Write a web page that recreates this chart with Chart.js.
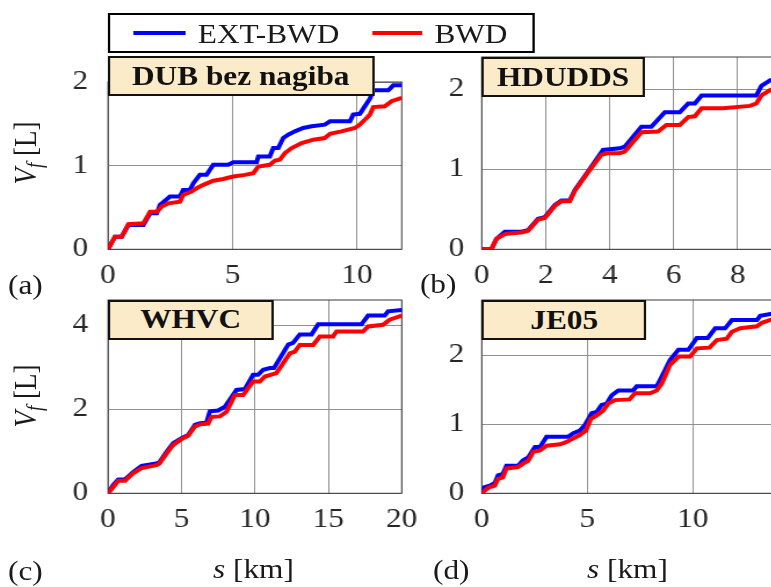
<!DOCTYPE html>
<html>
<head>
<meta charset="utf-8">
<script src="https://cdn.jsdelivr.net/npm/chart.js@4.4.1/dist/chart.umd.min.js"></script>
<style>
  html, body { margin: 0; padding: 0; background: #fff; width: 771px; height: 587px; overflow: hidden; }
  /* the original figure is stretched horizontally, so the whole figure is too */
  #fig { position: absolute; left: 0; top: 0; width: 720px; height: 587px;
         transform: scaleX(1.16); transform-origin: 0 0;
         font-family: "Liberation Serif", "Times New Roman", serif; color: #1a1a1a; }
  #fig canvas { position: absolute; }
  .lbl { position: absolute; font-size: 27px; line-height: 27px; white-space: nowrap; }
  .tbox { position: absolute; box-sizing: border-box; border: 2px solid #111; background: #fcebc8;
          font-weight: bold; font-size: 27px; text-align: center; white-space: nowrap; color: #111; }
  .ytitle { position: absolute; font-size: 27px; line-height: 27px; white-space: nowrap;
            transform: translate(-50%, -50%) rotate(-90deg); }
  .ytitle sub { font-size: 19px; vertical-align: -5px; }
  #legend { position: absolute; left: 92.5px; top: 13.3px; width: 368px; height: 40px;
            box-sizing: border-box; border: 2px solid #000; background: #fff; }
  #legend .ln { position: absolute; top: 16px; height: 4px; }
</style>
</head>
<body>
<div id="fig">
  <canvas id="chartA"></canvas>
  <canvas id="chartB"></canvas>
  <canvas id="chartC"></canvas>
  <canvas id="chartD"></canvas>

  <div id="legend">
    <div class="ln" style="left:20px;width:45px;background:#0000ff"></div>
    <div class="lbl" style="left:76px;top:5.5px">EXT-BWD</div>
    <div class="ln" style="left:226px;width:43px;background:#ff0000"></div>
    <div class="lbl" style="left:280px;top:5.5px">BWD</div>
  </div>

  <div class="tbox" style="left:92.5px;top:56px;width:230px;height:40px;line-height:36px">DUB bez nagiba</div>
  <div class="tbox" style="left:414.7px;top:56.7px;width:141.4px;height:40px;line-height:36px">HDUDDS</div>
  <div class="tbox" style="left:93.1px;top:300px;width:142.5px;height:39.5px;line-height:35.5px">WHVC</div>
  <div class="tbox" style="left:415.3px;top:300px;width:142.2px;height:40px;line-height:36px">JE05</div>

  <div class="ytitle" style="left:25.9px;top:153px"><i>V</i><sub><i>f</i></sub> [L]</div>
  <div class="ytitle" style="left:25.9px;top:396px"><i>V</i><sub><i>f</i></sub> [L]</div>

  <div class="lbl" style="left:6.9px;top:272.4px">(a)</div>
  <div class="lbl" style="left:362px;top:271.4px">(b)</div>
  <div class="lbl" style="left:6.9px;top:558.4px">(c)</div>
  <div class="lbl" style="left:373.3px;top:557.4px">(d)</div>

  <div class="lbl" style="left:183.6px;top:556.4px"><i>s</i> [km]</div>
  <div class="lbl" style="left:506px;top:556.4px"><i>s</i> [km]</div>
</div>

<script>
// (a) DUB bez nagiba
const dubExtX = [0, 0.28, 0.55, 0.82, 1.42, 1.69, 1.96, 2.09, 2.49, 2.89, 3.02, 3.29, 3.43, 3.69, 3.96, 4.23, 4.83, 5.03, 5.97, 6.04, 6.5, 6.64, 6.84, 7.04, 7.24, 7.51, 7.84, 8.18, 8.71, 8.92, 9.72, 9.85, 10.12, 10.32, 10.52, 10.66, 11.26, 11.46, 11.8];
const dubExtY = [0, 0.15, 0.15, 0.29, 0.29, 0.43, 0.43, 0.53, 0.63, 0.63, 0.71, 0.71, 0.79, 0.89, 0.89, 1.01, 1.01, 1.04, 1.04, 1.11, 1.11, 1.21, 1.21, 1.33, 1.37, 1.41, 1.45, 1.47, 1.49, 1.53, 1.53, 1.61, 1.62, 1.71, 1.80, 1.90, 1.90, 1.96, 1.96];
const dubBwdX = [0, 0.28, 0.55, 0.82, 1.42, 1.69, 1.96, 2.16, 2.43, 2.89, 3.02, 3.36, 3.56, 3.83, 4.23, 4.63, 5.03, 5.5, 5.84, 6.04, 6.5, 6.71, 6.9, 7.11, 7.38, 7.78, 8.25, 8.71, 8.92, 9.38, 9.92, 10.12, 10.39, 10.52, 10.66, 11.12, 11.39, 11.8];
const dubBwdY = [0, 0.15, 0.15, 0.30, 0.31, 0.45, 0.45, 0.51, 0.55, 0.57, 0.65, 0.69, 0.73, 0.77, 0.82, 0.84, 0.87, 0.89, 0.91, 0.99, 1.01, 1.06, 1.07, 1.15, 1.21, 1.27, 1.31, 1.33, 1.38, 1.41, 1.45, 1.49, 1.57, 1.61, 1.70, 1.71, 1.77, 1.81];

// (b) HDUDDS
const hdExtX = [0, 0.30, 0.46, 0.72, 0.93, 1.24, 1.45, 1.76, 1.97, 2.28, 2.49, 2.75, 2.91, 3.32, 3.79, 4.31, 4.47, 4.99, 5.30, 5.72, 6.19, 6.45, 6.66, 6.87, 8.58, 8.74, 9.06];
const hdExtY = [0, 0, 0.13, 0.22, 0.22, 0.22, 0.24, 0.38, 0.40, 0.55, 0.61, 0.61, 0.74, 0.97, 1.24, 1.26, 1.28, 1.53, 1.53, 1.71, 1.71, 1.82, 1.82, 1.92, 1.92, 2.04, 2.12];
const hdBwdX = [0, 0.30, 0.46, 0.72, 0.93, 1.24, 1.45, 1.76, 1.97, 2.28, 2.49, 2.75, 2.91, 3.32, 3.74, 3.95, 4.31, 4.47, 4.99, 5.51, 5.77, 6.19, 6.45, 6.66, 6.87, 7.54, 8.38, 8.58, 8.74, 9.06];
const hdBwdY = [0, 0, 0.13, 0.19, 0.20, 0.21, 0.23, 0.37, 0.39, 0.54, 0.60, 0.60, 0.73, 0.96, 1.18, 1.20, 1.20, 1.22, 1.46, 1.47, 1.55, 1.55, 1.65, 1.66, 1.76, 1.76, 1.79, 1.82, 1.92, 2.00];

// (c) WHVC
const whExtX = [0, 0.36, 0.7, 1.16, 1.72, 2.29, 3.3, 3.5, 3.99, 4.44, 5.01, 5.46, 5.92, 6.26, 6.7, 6.94, 7.5, 7.96, 8.75, 9.32, 9.88, 10.22, 10.57, 11.02, 11.3, 12.27, 12.6, 13.06, 13.86, 14.31, 17.26, 17.71, 18.84, 19.07, 20];
const whExtY = [0, 0.2, 0.33, 0.33, 0.51, 0.65, 0.71, 0.74, 0.99, 1.19, 1.31, 1.39, 1.63, 1.67, 1.68, 1.95, 1.97, 2.06, 2.46, 2.48, 2.82, 2.82, 2.94, 2.98, 2.98, 3.54, 3.58, 3.78, 3.78, 4.02, 4.02, 4.23, 4.23, 4.33, 4.36];
const whBwdX = [0, 0.36, 0.7, 1.16, 1.72, 2.29, 3.3, 3.5, 3.99, 4.44, 5.01, 5.46, 5.92, 6.26, 6.82, 7.05, 7.62, 8.07, 8.64, 9.2, 9.88, 10.34, 10.68, 11.47, 12.38, 12.72, 13.06, 13.97, 14.42, 15.33, 15.56, 17.37, 17.71, 18.73, 19.18, 20];
const whBwdY = [0, 0.15, 0.3, 0.3, 0.48, 0.6, 0.67, 0.71, 0.95, 1.15, 1.29, 1.37, 1.59, 1.64, 1.66, 1.82, 1.83, 1.94, 2.34, 2.34, 2.66, 2.66, 2.78, 2.86, 3.33, 3.37, 3.53, 3.53, 3.73, 3.73, 3.85, 3.85, 3.97, 4.01, 4.13, 4.23];

// (d) JE05
const jeExtX = [0, 0.14, 0.38, 0.62, 0.77, 1.0, 1.17, 1.72, 1.96, 2.2, 2.52, 2.76, 3.07, 4.1, 4.34, 4.65, 4.89, 5.21, 5.45, 5.68, 5.92, 6.16, 6.47, 7.18, 7.34, 8.29, 8.53, 8.92, 9.32, 9.79, 10.19, 10.71, 11.06, 11.53, 11.85, 13.04, 13.19, 13.75];
const jeExtY = [0, 0.09, 0.11, 0.15, 0.26, 0.28, 0.40, 0.40, 0.48, 0.52, 0.67, 0.67, 0.82, 0.82, 0.87, 0.91, 0.99, 1.16, 1.18, 1.28, 1.30, 1.42, 1.49, 1.49, 1.55, 1.55, 1.69, 1.93, 2.08, 2.08, 2.25, 2.25, 2.39, 2.39, 2.51, 2.51, 2.57, 2.60];
const jeBwdX = [0, 0.22, 0.38, 0.62, 0.77, 1.0, 1.17, 1.72, 1.96, 2.2, 2.44, 2.76, 3.07, 3.71, 3.99, 4.3, 4.62, 4.94, 5.17, 5.45, 5.76, 6.0, 6.31, 7.0, 7.26, 7.97, 8.29, 8.53, 8.92, 9.32, 9.87, 10.19, 10.79, 11.14, 11.61, 11.85, 12.25, 13.04, 13.27, 13.75];
const jeBwdY = [0, 0.06, 0.09, 0.11, 0.21, 0.23, 0.36, 0.38, 0.43, 0.47, 0.60, 0.62, 0.69, 0.71, 0.74, 0.79, 0.84, 0.91, 1.08, 1.13, 1.20, 1.30, 1.35, 1.36, 1.45, 1.45, 1.49, 1.59, 1.86, 1.98, 1.98, 2.10, 2.11, 2.22, 2.24, 2.34, 2.39, 2.42, 2.47, 2.52];

// tick labels of each panel
const xTicksA = [0, 5, 10],          yTicksA = [0, 1, 2];
const xTicksB = [0, 2, 4, 6, 8],     yTicksB = [0, 1, 2];
const xTicksC = [0, 5, 10, 15, 20],  yTicksC = [0, 2, 4];
const xTicksD = [0, 5, 10],          yTicksD = [0, 1, 2];

const toPoints = (xs, ys) => xs.map((x, i) => ({ x: x, y: ys[i] }));

// draws the box around the plot area (like MATLAB "box on")
const framePlugin = {
  id: 'frame',
  beforeDatasetsDraw(chart) {
    const a = chart.chartArea, ctx = chart.ctx;
    ctx.save();
    ctx.strokeStyle = '#3a3a3a';
    ctx.lineWidth = 1;
    ctx.strokeRect(a.left, a.top, a.right - a.left, a.bottom - a.top);
    ctx.restore();
  }
};

function makePanel(id, cv, area, xMax, yMax, xTicks, yTicks, ext, bwd, yPad) {
  const canvas = document.getElementById(id);
  canvas.width = cv.w;
  canvas.height = cv.h;
  canvas.style.left = cv.x + 'px';
  canvas.style.top = cv.y + 'px';

  const tickFont = { family: '"Liberation Serif", "Times New Roman", serif', size: 27 };

  new Chart(canvas, {
    type: 'line',
    data: {
      datasets: [
        { label: 'EXT-BWD', data: ext, borderColor: '#0000ff', borderWidth: 4, order: 2 },
        { label: 'BWD', data: bwd, borderColor: '#ff0000', borderWidth: 4, order: 1 }
      ]
    },
    options: {
      responsive: false,
      animation: false,
      events: [],
      elements: { point: { radius: 0 }, line: { tension: 0 } },
      layout: { padding: { left: 0, top: area.t - cv.y, right: cv.x + cv.w - area.r, bottom: 0 } },
      plugins: { legend: { display: false }, tooltip: { enabled: false } },
      scales: {
        x: {
          type: 'linear', min: 0, max: xMax,
          afterBuildTicks: s => { s.ticks = xTicks.map(v => ({ value: v })); },
          afterFit: s => { s.height = cv.y + cv.h - area.b; },
          grid: { color: '#909090', lineWidth: 1, drawTicks: false },
          border: { display: false },
          ticks: { font: tickFont, color: '#262626', padding: 10, maxRotation: 0, autoSkip: false }
        },
        y: {
          type: 'linear', min: 0, max: yMax,
          afterBuildTicks: s => { s.ticks = yTicks.map(v => ({ value: v })); },
          afterFit: s => { s.width = area.l - cv.x; },
          grid: { color: '#909090', lineWidth: 1, drawTicks: false },
          border: { display: false },
          ticks: { font: tickFont, color: '#262626', padding: yPad }
        }
      }
    },
    plugins: [framePlugin]
  });
}

// positions are in the un-stretched figure coordinates;
// canvases leave ~40px round the plot so the tick-label padding never shrinks it
makePanel('chartA', { x: 20, y: 42, w: 366, h: 258 }, { l: 93.1, t: 82, r: 346.3, b: 249.3 },
  11.8, 2.0, xTicksA, yTicksA, toPoints(dubExtX, dubExtY), toPoints(dubBwdX, dubBwdY), 17);
makePanel('chartB', { x: 340, y: 16.7, w: 370, h: 283.3 }, { l: 415.3, t: 56.7, r: 665.5, b: 249.3 },
  9.07, 2.4, xTicksB, yTicksB, toPoints(hdExtX, hdExtY), toPoints(hdBwdX, hdBwdY), 15);
makePanel('chartC', { x: 20, y: 260, w: 366, h: 288 }, { l: 93.1, t: 300, r: 346.3, b: 493.3 },
  20, 4.6, xTicksC, yTicksC, toPoints(whExtX, whExtY), toPoints(whBwdX, whBwdY), 17);
makePanel('chartD', { x: 340, y: 260, w: 370, h: 288 }, { l: 415.3, t: 300, r: 665.5, b: 493.3 },
  13.75, 2.8, xTicksD, yTicksD, toPoints(jeExtX, jeExtY), toPoints(jeBwdX, jeBwdY), 15);
</script>
</body>
</html>
